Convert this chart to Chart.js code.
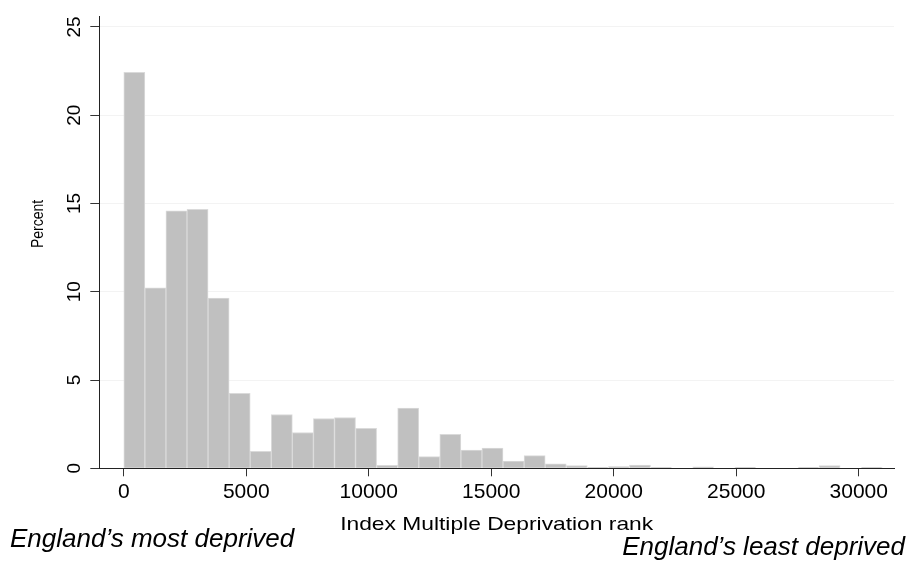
<!DOCTYPE html>
<html>
<head>
<meta charset="utf-8">
<script src="https://cdn.jsdelivr.net/npm/chart.js@4.4.1/dist/chart.umd.min.js"></script>
<style>
  html, body { margin: 0; padding: 0; background: #ffffff; }
  #wrap { width: 910px; height: 561px; position: relative; }
</style>
</head>
<body>
<div id="wrap"><canvas id="c"></canvas></div>
<script>
// Histogram bin centres (Index Multiple Deprivation rank), bin width 860
const binCenters = [430, 1290, 2150, 3010, 3870, 4730, 5590, 6450, 7310, 8170,
  9030, 9890, 10750, 11610, 12470, 13330, 14190, 15050, 15910, 16770,
  17630, 18490, 19350, 20210, 21070, 21930, 22790, 23650, 24510, 25370,
  26230, 27090, 27950, 28810, 29670, 30530];
// Percent in each bin
const percentValues = [22.43, 10.23, 14.59, 14.67, 9.64, 4.24, 0.96, 3.05, 2.03, 2.82,
  2.88, 2.26, 0.17, 3.41, 0.66, 1.92, 1.03, 1.14, 0.41, 0.72,
  0.25, 0.15, 0.05, 0.10, 0.18, 0.06, 0, 0.08, 0, 0.05,
  0, 0, 0.05, 0.15, 0, 0.05];
const xTicks = [0, 5000, 10000, 15000, 20000, 25000, 30000];
const yTicks = [0, 5, 10, 15, 20, 25];
const xTitle = 'Index Multiple Deprivation rank';
const yTitle = 'Percent';
const leftNote = 'England\u2019s most deprived';
const rightNote = 'England\u2019s least deprived';

const FONT = "'Liberation Sans', Arial, Helvetica, sans-serif";

const textPlugin = {
  id: 'notes',
  afterDraw(chart) {
    const ctx = chart.ctx;
    const area = chart.chartArea;
    ctx.save();
    ctx.fillStyle = '#000';
    // y title
    ctx.save();
    ctx.translate(38, 224);
    ctx.scale(1.2, 1);
    ctx.rotate(-Math.PI / 2);
    ctx.font = '14px ' + FONT;
    ctx.textAlign = 'center';
    ctx.textBaseline = 'middle';
    ctx.fillText(yTitle, 0, 0);
    ctx.restore();
    // x title (centred on the plot region)
    ctx.save();
    ctx.translate((area.left + area.right) / 2, 530);
    ctx.scale(1.2, 1);
    ctx.font = '19px ' + FONT;
    ctx.textAlign = 'center';
    ctx.textBaseline = 'alphabetic';
    ctx.fillText(xTitle, 0, 0);
    ctx.restore();
    // notes
    ctx.font = 'italic 26px ' + FONT;
    ctx.textBaseline = 'alphabetic';
    ctx.textAlign = 'left';
    ctx.fillText(leftNote, 10, 547);
    ctx.textAlign = 'right';
    ctx.fillText(rightNote, 905, 555);
    ctx.restore();
  }
};

const bgPlugin = {
  id: 'bg',
  beforeDraw(chart) {
    const ctx = chart.ctx;
    ctx.save();
    ctx.fillStyle = '#ffffff';
    ctx.fillRect(0, 0, chart.width, chart.height);
    ctx.restore();
  }
};

new Chart(document.getElementById('c'), {
  type: 'bar',
  data: {
    datasets: [{
      data: binCenters.map((x, i) => ({ x: x, y: percentValues[i] })),
      backgroundColor: '#c0c0c0',
      borderColor: '#dadada',
      borderWidth: 1,
      borderSkipped: 'start',
      barPercentage: 1,
      categoryPercentage: 1
    }]
  },
  options: {
    responsive: true,
    maintainAspectRatio: false,
    devicePixelRatio: 1,
    animation: false,
    layout: { padding: { top: 15, right: 16, left: 0, bottom: 0 } },
    plugins: { legend: { display: false }, tooltip: { enabled: false }, title: { display: false } },
    scales: {
      x: {
        type: 'linear',
        min: -1000,
        max: 31440,
        offset: false,
        afterFit(scale) { scale.height = 92.7; },
        afterBuildTicks(scale) { scale.ticks = xTicks.map(v => ({ value: v })); },
        grid: { display: true, offset: false, drawOnChartArea: false, drawTicks: true, tickLength: 8, tickColor: '#333', color: '#333' },
        border: { display: true, color: '#222', width: 1 },
        ticks: {
          font: { family: FONT, size: 21 },
          color: '#000',
          padding: 3,
          maxRotation: 0,
          minRotation: 0,
          autoSkip: false,
          callback: (v) => String(v)
        }
      },
      y: {
        type: 'linear',
        min: 0,
        max: 25.6,
        afterFit(scale) { scale.width = 99.3; },
        afterBuildTicks(scale) { scale.ticks = yTicks.map(v => ({ value: v })); },
        grid: { display: true, offset: false, drawOnChartArea: true, drawTicks: true, tickLength: 9, tickColor: '#333', color: '#f3f3f3' },
        border: { display: true, color: '#222', width: 1 },
        ticks: {
          font: { family: FONT, size: 19 },
          color: '#000',
          padding: 5,
          minRotation: 90,
          maxRotation: 90,
          crossAlign: 'center',
          autoSkip: false,
          callback: (v) => String(v)
        }
      }
    }
  },
  plugins: [bgPlugin, textPlugin]
});
</script>
</body>
</html>
